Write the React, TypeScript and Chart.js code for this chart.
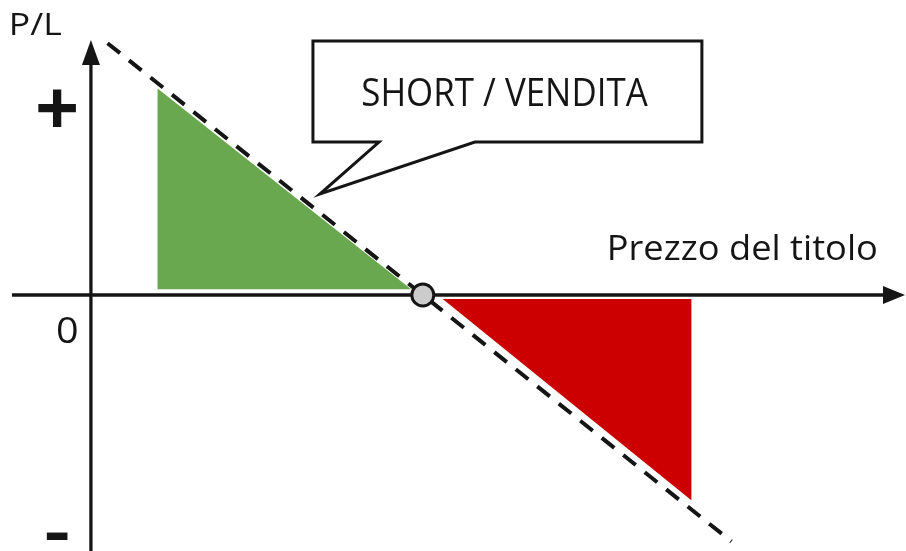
import React, { useEffect, useRef } from "react";
import { Chart, registerables } from "chart.js";

Chart.register(...registerables);

// Scale ranges (price on x, P/L on y)
const X_RANGE = [-2.74, 24.56];
const Y_RANGE = [-9.66, 11.13];

// Break-even price and the short position P/L line
const BREAKEVEN = [{ x: 10, y: 0 }];
const PL_LINE = [
  { x: 0.5, y: 9.5 },
  { x: 19.3, y: -9.3 },
];
// Profit (green) and loss (red) areas
const PROFIT_EDGE = [
  { x: 2, y: 7.8 },
  { x: 9.65, y: 0.22 },
];
const PROFIT_BASE = 0.22;
const LOSS_EDGE = [
  { x: 10.6, y: -0.15 },
  { x: 18.1, y: -7.75 },
];
const LOSS_BASE = -0.15;

// Axes
const X_AXIS = [
  { x: -2.38, y: 0 },
  { x: 24.0, y: 0 },
];
const Y_AXIS = [
  { x: 0, y: -9.7 },
  { x: 0, y: 9.0 },
];
const X_ARROW_TIP = { x: 24.53, y: 0 };
const Y_ARROW_TIP = { x: 0, y: 9.62 };

// Callout (data coordinates)
const CALLOUT_BOX = { x1: 6.69, x2: 18.41, y1: 9.58, y2: 5.77 };
const CALLOUT_TAIL = { a: 8.68, b: 11.57, tipX: 6.9, tipY: 3.81 };

// Texts
const CALLOUT_TEXT = "SHORT / VENDITA";
const X_LABEL = "Prezzo del titolo";
const Y_LABEL = "P/L";
const ZERO_LABEL = "0";
const PLUS_LABEL = "+";
const MINUS_LABEL = "-";

const FONT = '"Open Sans", "Noto Sans", sans-serif';
const INK = "#151515";

function fitText(
  ctx: CanvasRenderingContext2D,
  text: string,
  weight: string,
  box: { x1: number; y1: number; x2: number; y2: number }
) {
  ctx.save();
  ctx.font = `${weight} 100px ${FONT}`;
  ctx.textAlign = "left";
  ctx.textBaseline = "alphabetic";
  const m = ctx.measureText(text);
  const w = m.actualBoundingBoxLeft + m.actualBoundingBoxRight;
  const h = m.actualBoundingBoxAscent + m.actualBoundingBoxDescent;
  const sx = (box.x2 - box.x1) / w;
  const sy = (box.y2 - box.y1) / h;
  ctx.translate(box.x1, box.y1);
  ctx.scale(sx, sy);
  ctx.fillStyle = INK;
  ctx.fillText(text, m.actualBoundingBoxLeft, m.actualBoundingBoxAscent);
  ctx.restore();
}

const overlayPlugin = {
  id: "overlay",
  afterDatasetsDraw(chart: any) {
    const ctx: CanvasRenderingContext2D = chart.ctx;
    const xs = chart.scales.x;
    const ys = chart.scales.y;
    const px = (v: number) => xs.getPixelForValue(v);
    const py = (v: number) => ys.getPixelForValue(v);

    // arrowheads
    ctx.save();
    ctx.fillStyle = INK;
    const yt = { x: px(Y_ARROW_TIP.x), y: py(Y_ARROW_TIP.y) };
    ctx.beginPath();
    ctx.moveTo(yt.x, yt.y);
    ctx.lineTo(yt.x + 9, yt.y + 25);
    ctx.lineTo(yt.x - 9, yt.y + 25);
    ctx.closePath();
    ctx.fill();
    const xt = { x: px(X_ARROW_TIP.x), y: py(X_ARROW_TIP.y) };
    ctx.beginPath();
    ctx.moveTo(xt.x, xt.y);
    ctx.lineTo(xt.x - 22, xt.y - 9);
    ctx.lineTo(xt.x - 22, xt.y + 9);
    ctx.closePath();
    ctx.fill();
    ctx.restore();

    // callout
    const bx1 = px(CALLOUT_BOX.x1);
    const bx2 = px(CALLOUT_BOX.x2);
    const by1 = py(CALLOUT_BOX.y1);
    const by2 = py(CALLOUT_BOX.y2);
    ctx.save();
    ctx.beginPath();
    ctx.moveTo(bx1, by1);
    ctx.lineTo(bx2, by1);
    ctx.lineTo(bx2, by2);
    ctx.lineTo(px(CALLOUT_TAIL.b), by2);
    ctx.lineTo(px(CALLOUT_TAIL.tipX), py(CALLOUT_TAIL.tipY));
    ctx.lineTo(px(CALLOUT_TAIL.a), by2);
    ctx.lineTo(bx1, by2);
    ctx.closePath();
    ctx.fillStyle = "#ffffff";
    ctx.fill();
    ctx.lineWidth = 3;
    ctx.lineJoin = "miter";
    ctx.strokeStyle = INK;
    ctx.stroke();
    ctx.restore();

    // texts
    fitText(ctx, CALLOUT_TEXT, "400", { x1: 363, y1: 77, x2: 648, y2: 106 });
    fitText(ctx, X_LABEL, "400", { x1: 610, y1: 233, x2: 876, y2: 260 });
    fitText(ctx, Y_LABEL, "400", { x1: 12, y1: 13, x2: 61, y2: 35 });
    fitText(ctx, ZERO_LABEL, "400", { x1: 58, y1: 315, x2: 77, y2: 343 });
    fitText(ctx, PLUS_LABEL, "700", { x1: 38, y1: 89, x2: 76, y2: 127 });
    fitText(ctx, MINUS_LABEL, "700", { x1: 46, y1: 532, x2: 68, y2: 540 });
  },
};

export default function App() {
  const ref = useRef<HTMLCanvasElement | null>(null);

  useEffect(() => {
    document.body.style.margin = "0";
    const canvas = ref.current;
    if (!canvas) return;
    const chart = new Chart(canvas, {
      type: "scatter",
      data: {
        datasets: [
          {
            data: PROFIT_EDGE,
            showLine: true,
            borderWidth: 0,
            borderColor: "rgba(0,0,0,0)",
            backgroundColor: "#6aa84f",
            pointRadius: 0,
            fill: { value: PROFIT_BASE },
            order: 6,
          },
          {
            data: LOSS_EDGE,
            showLine: true,
            borderWidth: 0,
            borderColor: "rgba(0,0,0,0)",
            backgroundColor: "#cc0000",
            pointRadius: 0,
            fill: { value: LOSS_BASE },
            order: 5,
          },
          {
            data: X_AXIS,
            showLine: true,
            borderWidth: 3.3,
            borderColor: INK,
            pointRadius: 0,
            order: 4,
          },
          {
            data: Y_AXIS,
            showLine: true,
            borderWidth: 3.3,
            borderColor: INK,
            pointRadius: 0,
            order: 3,
          },
          {
            data: PL_LINE,
            showLine: true,
            borderWidth: 4,
            borderColor: INK,
            borderDash: [16, 11.5],
            pointRadius: 0,
            order: 2,
          },
          {
            data: BREAKEVEN,
            pointRadius: 11,
            pointBackgroundColor: "#cccccc",
            pointBorderColor: INK,
            pointBorderWidth: 3,
            order: 1,
          },
        ],
      },
      options: {
        responsive: false,
        animation: false,
        layout: { padding: 0, autoPadding: false },
        plugins: {
          legend: { display: false },
          tooltip: { enabled: false },
        },
        scales: {
          x: { type: "linear", display: false, min: X_RANGE[0], max: X_RANGE[1] },
          y: { type: "linear", display: false, min: Y_RANGE[0], max: Y_RANGE[1] },
        },
      },
      plugins: [overlayPlugin],
    });
    return () => chart.destroy();
  }, []);

  return (
    <div style={{ width: 906, height: 551, background: "#fff" }}>
      <canvas ref={ref} width={906} height={551} style={{ display: "block" }} />
    </div>
  );
}
